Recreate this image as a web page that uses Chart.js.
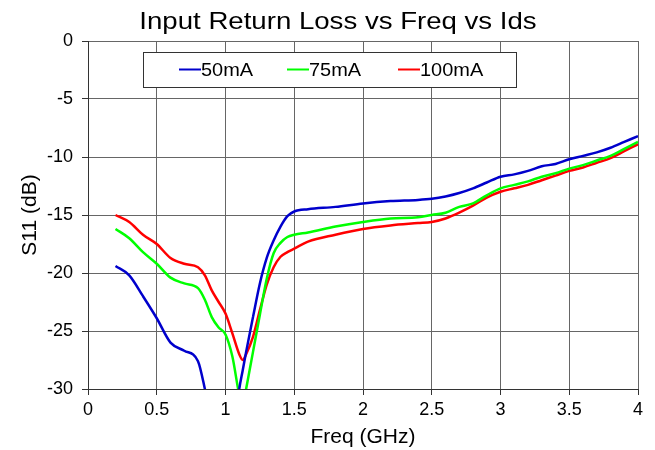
<!DOCTYPE html>
<html>
<head>
<meta charset="utf-8">
<script src="https://cdn.jsdelivr.net/npm/chart.js@4/dist/chart.umd.min.js"></script>
<style>
html,body{margin:0;padding:0;background:#fff;}
#wrap{width:655px;height:450px;position:relative;}
</style>
</head>
<body>
<div id="wrap"><canvas id="c" width="655" height="450"></canvas></div>
<script>
const chartTitle = "Input Return Loss vs Freq vs Ids";
const xTitle = "Freq (GHz)";
const yTitle = "S11 (dB)";
const seriesLabels = ["50mA", "75mA", "100mA"];
const freqGHz = [0.2,0.3,0.4,0.5,0.6,0.7,0.8,0.85,0.9,0.95,1.0,1.05,1.1,1.125,1.15,1.2,1.25,1.3,1.35,1.4,1.45,1.5,1.6,1.8,2.0,2.2,2.4,2.5,2.6,2.7,2.8,2.9,3.0,3.1,3.2,3.3,3.4,3.5,3.6,3.7,3.8,3.9,4.0];
const s11_50mA  = [-19.4,-20.2,-22.0,-23.9,-26.0,-26.7,-27.6,-30.0,-33.0,-35.5,-36.5,-34.5,-30.0,-28.4,-26.8,-23.8,-20.9,-18.7,-17.2,-16.0,-15.1,-14.7,-14.5,-14.3,-14.0,-13.8,-13.7,-13.6,-13.4,-13.1,-12.7,-12.2,-11.7,-11.5,-11.2,-10.8,-10.6,-10.2,-9.9,-9.6,-9.2,-8.7,-8.2];
const s11_75mA  = [-16.2,-17.0,-18.2,-19.2,-20.4,-20.9,-21.3,-22.3,-23.8,-24.7,-25.3,-27.2,-30.5,-31.5,-30.0,-26.8,-23.6,-20.5,-18.3,-17.4,-16.9,-16.7,-16.5,-16.0,-15.6,-15.3,-15.2,-15.0,-14.8,-14.3,-14.0,-13.3,-12.7,-12.4,-12.1,-11.7,-11.4,-11.0,-10.7,-10.3,-9.9,-9.3,-8.7];
const s11_100mA = [-15.0,-15.6,-16.7,-17.5,-18.7,-19.2,-19.5,-20.2,-21.5,-22.5,-23.5,-25.2,-27.0,-27.5,-27.0,-25.5,-23.2,-21.0,-19.5,-18.6,-18.2,-17.9,-17.3,-16.7,-16.2,-15.9,-15.7,-15.6,-15.3,-14.8,-14.2,-13.5,-13.0,-12.7,-12.4,-12.0,-11.6,-11.2,-10.9,-10.5,-10.1,-9.5,-8.9];
const seriesColors = ["#0000cc", "#00ff00", "#ff0000"];
const xTicks = {min: 0, max: 4, step: 0.5};
const yTicks = {min: -30, max: 0, step: 5};

const FONT = '"Liberation Sans", Arial, sans-serif';
const allSeries = [s11_50mA, s11_75mA, s11_100mA];
const datasets = allSeries.map((vals, i) => ({
  label: seriesLabels[i],
  data: freqGHz.map((f, k) => ({x: f, y: vals[k]})),
  borderColor: seriesColors[i],
  backgroundColor: seriesColors[i],
  borderWidth: 2.5,
  pointRadius: 0,
  cubicInterpolationMode: 'monotone',
  fill: false,
  clip: 0
}));

const decor = {
  id: 'decor',
  afterDraw(chart) {
    const ctx = chart.ctx;
    const ca = chart.chartArea;
    ctx.save();
    // title (slightly widened like the reference)
    ctx.fillStyle = '#000';
    ctx.font = '24px ' + FONT;
    ctx.textAlign = 'center';
    ctx.textBaseline = 'alphabetic';
    ctx.save();
    ctx.translate(ca.left + 250, 29);
    ctx.scale(1.15, 1);
    ctx.fillText(chartTitle, 0, 0);
    ctx.restore();
    // legend box
    const bx = ca.left + 55, by = ca.top + 11, bw = 373, bh = 35;
    ctx.fillStyle = '#fff';
    ctx.fillRect(bx, by, bw, bh);
    ctx.strokeStyle = '#333';
    ctx.lineWidth = 1;
    ctx.strokeRect(bx + 0.5, by + 0.5, bw, bh);
    const itemX = [bx + 36, bx + 144, bx + 255];
    ctx.font = '19px ' + FONT;
    ctx.textAlign = 'left';
    ctx.textBaseline = 'middle';
    chart.data.datasets.forEach((ds, i) => {
      const x = itemX[i], y = by + bh / 2;
      ctx.strokeStyle = ds.borderColor;
      ctx.lineWidth = 2;
      ctx.beginPath();
      ctx.moveTo(x, y);
      ctx.lineTo(x + 22, y);
      ctx.stroke();
      ctx.fillStyle = '#000';
      ctx.save();
      ctx.translate(x + 22, y + 1);
      ctx.scale(1.05, 1);
      ctx.fillText(ds.label, 0, 0);
      ctx.restore();
    });
    ctx.restore();
  }
};

new Chart(document.getElementById('c'), {
  type: 'line',
  data: {datasets},
  options: {
    responsive: false,
    animation: false,
    layout: {padding: {top: 41, right: 17, left: 0, bottom: 0}},
    plugins: {legend: {display: false}, title: {display: false}, tooltip: {enabled: false}},
    scales: {
      x: {
        type: 'linear',
        min: xTicks.min, max: xTicks.max,
        ticks: {stepSize: xTicks.step, color: '#000', font: {family: FONT, size: 18}, padding: 4, maxRotation: 0,
                callback: (v) => String(Math.round(v * 10) / 10)},
        grid: {color: '#666', lineWidth: 1, tickLength: 6, tickColor: '#333'},
        border: {color: '#333', width: 1},
        title: {display: true, text: xTitle, color: '#000', font: {family: FONT, size: 21}, padding: {top: 0, bottom: 0}},
        afterFit(s) { s.height = 61; }
      },
      y: {
        type: 'linear',
        min: yTicks.min, max: yTicks.max,
        ticks: {stepSize: yTicks.step, color: '#000', font: {family: FONT, size: 18}, padding: 9,
                callback: (v) => String(v)},
        grid: {color: '#666', lineWidth: 1, tickLength: 6, tickColor: '#333'},
        border: {color: '#333', width: 1},
        title: {display: true, text: yTitle, color: '#000', font: {family: FONT, size: 21}, padding: {top: 18, bottom: 0}},
        afterFit(s) { s.width = 88; }
      }
    }
  },
  plugins: [decor]
});
</script>
</body>
</html>
